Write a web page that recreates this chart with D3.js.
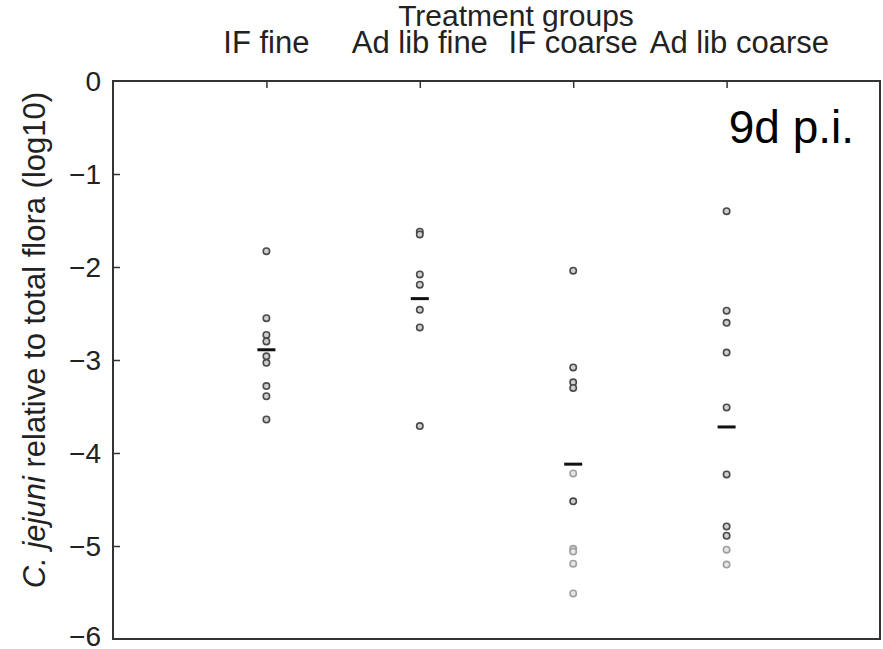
<!DOCTYPE html>
<html>
<head>
<meta charset="utf-8">
<script src="https://cdn.jsdelivr.net/npm/d3@7"></script>
<style>
  html, body { margin: 0; padding: 0; background: #fff; }
  svg { display: block; font-family: "Liberation Sans", Arial, Helvetica, sans-serif; }
</style>
</head>
<body>
<svg id="chart" width="883" height="649"></svg>
<script>
// Treatment groups and their per-animal log10 ratios
const groups = ["IF fine", "Ad lib fine", "IF coarse", "Ad lib coarse"];
const ifFine      = [-1.83, -2.55, -2.73, -2.80, -2.96, -3.03, -3.28, -3.39, -3.64];
const adLibFine   = [-1.62, -1.65, -2.08, -2.19, -2.46, -2.65, -3.71];
const ifCoarse    = [-2.04, -3.08, -3.24, -3.30, -4.22, -4.52, -5.03, -5.06, -5.19, -5.51];
const adLibCoarse = [-1.40, -2.47, -2.60, -2.92, -3.51, -4.23, -4.79, -4.89, -5.04, -5.20];
// Samples at the detection limit are drawn in a paler grey
const ifFineLow      = [0, 0, 0, 0, 0, 0, 0, 0, 0];
const adLibFineLow   = [0, 0, 0, 0, 0, 0, 0];
const ifCoarseLow    = [0, 0, 0, 0, 1, 0, 1, 1, 1, 1];
const adLibCoarseLow = [0, 0, 0, 0, 0, 0, 0, 0, 1, 1];
// Group means
const groupMeans = [-2.89, -2.34, -4.12, -3.72];
// Axis ticks
const yTicks = [0, -1, -2, -3, -4, -5, -6];
const annotation = "9d p.i.";

const seriesValues = [ifFine, adLibFine, ifCoarse, adLibCoarse];
const seriesLow = [ifFineLow, adLibFineLow, ifCoarseLow, adLibCoarseLow];

const svg = d3.select("#chart");
const plot = { left: 113, right: 880, top: 81, bottom: 639 };

const x = d3.scaleLinear().domain([0, groups.length + 1]).range([plot.left, plot.right]);
const y = d3.scaleLinear().domain([0, -6]).range([plot.top, plot.bottom]);

const ink = "#222";

// Frame
svg.append("rect")
  .attr("x", plot.left).attr("y", plot.top)
  .attr("width", plot.right - plot.left).attr("height", plot.bottom - plot.top)
  .attr("fill", "none").attr("stroke", "#333").attr("stroke-width", 2);

// Left axis: inward ticks with labels outside
const yAxis = d3.axisRight(y)
  .tickValues(yTicks)
  .tickSize(7)
  .tickFormat(() => "");
const gy = svg.append("g").attr("transform", `translate(${plot.left},0)`).call(yAxis);
gy.select(".domain").remove();
gy.selectAll(".tick line").attr("stroke", "#333").attr("stroke-width", 1.5);
gy.selectAll(".tick").filter(d => d === 0 || d === -6).remove();

svg.append("g").selectAll("text")
  .data(yTicks)
  .join("text")
  .attr("x", plot.left - 12)
  .attr("y", d => Math.min(y(d), plot.bottom - 3))
  .attr("dy", "0.36em")
  .attr("text-anchor", "end")
  .attr("font-size", 28)
  .attr("fill", ink)
  .text(d => d === 0 ? "0" : "\u2212" + Math.abs(d));

// Top axis: group ticks pointing into the plot, labels above
const gx = svg.append("g").attr("transform", `translate(0,${plot.top})`)
  .call(d3.axisBottom(x).tickValues(d3.range(1, groups.length + 1)).tickSize(7).tickFormat(() => ""));
gx.select(".domain").remove();
gx.selectAll(".tick line").attr("stroke", "#333").attr("stroke-width", 1.5);

// Group labels centred on their ticks, nudged right where they would collide
const labels = svg.append("g").selectAll("text")
  .data(groups)
  .join("text")
  .attr("x", (d, i) => x(i + 1))
  .attr("y", 53)
  .attr("text-anchor", "middle")
  .attr("font-size", 31)
  .attr("fill", ink)
  .text(d => d);
let prevRight = -Infinity;
labels.each(function () {
  const el = d3.select(this);
  const b = this.getBBox();
  let shift = 0;
  if (b.x < prevRight + 12) shift = prevRight + 12 - b.x;
  el.attr("x", +el.attr("x") + shift);
  prevRight = b.x + b.width + shift;
});

svg.append("text")
  .attr("x", 516).attr("y", 26)
  .attr("text-anchor", "middle")
  .attr("font-size", 30)
  .attr("fill", ink)
  .text("Treatment groups");

// Y axis title
const yt = svg.append("text")
  .attr("transform", `translate(45,340) rotate(-90)`)
  .attr("text-anchor", "middle")
  .attr("font-size", 31)
  .attr("fill", ink);
yt.append("tspan").attr("font-style", "italic").text("C. jejuni");
yt.append("tspan").text(" relative to total flora (log10)");

// Points
const pts = [];
seriesValues.forEach((vals, gi) => vals.forEach((v, k) => pts.push({ g: gi, v, low: seriesLow[gi][k] })));
svg.append("g").selectAll("circle")
  .data(pts)
  .join("circle")
  .attr("cx", d => x(d.g + 1))
  .attr("cy", d => y(d.v))
  .attr("r", 3.2)
  .attr("fill", d => d.low ? "#e6e6e6" : "#cfcfcf")
  .attr("stroke", d => d.low ? "#a0a0a0" : "#4a4a4a")
  .attr("stroke-width", 1.6);

// Mean bars
svg.append("g").selectAll("rect")
  .data(groupMeans)
  .join("rect")
  .attr("x", (d, i) => x(i + 1) - 9)
  .attr("y", d => y(d) - 1.5)
  .attr("width", 18)
  .attr("height", 3)
  .attr("fill", "#111");

// Time point annotation
svg.append("text")
  .attr("x", 854).attr("y", 143)
  .attr("text-anchor", "end")
  .attr("font-size", 46)
  .attr("fill", "#000")
  .text(annotation);
</script>
</body>
</html>
